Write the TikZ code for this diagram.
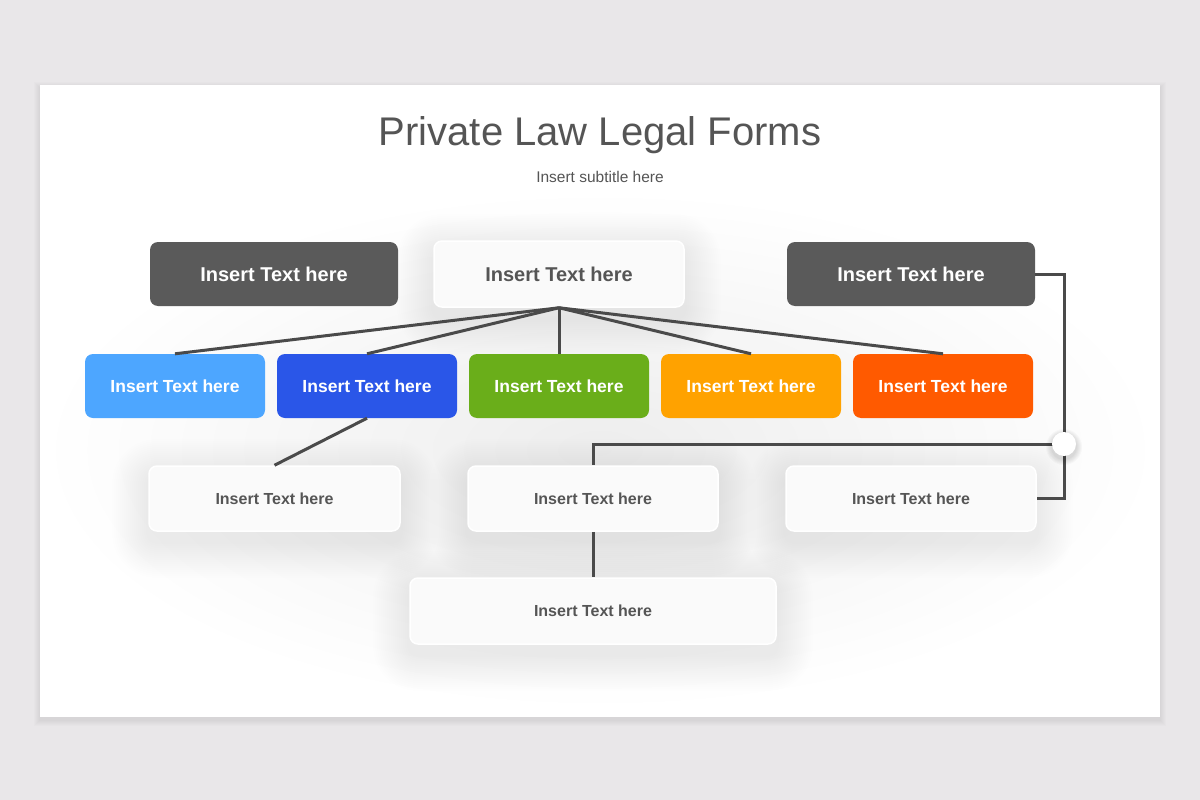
\documentclass[tikz,border=0pt]{standalone}
\usepackage{fontspec}
\setmainfont{Liberation Sans}
\usetikzlibrary{backgrounds}
\definecolor{bgc}{HTML}{E9E7E9}
\definecolor{darkc}{HTML}{5A5A5A}
\definecolor{linec}{HTML}{4A4A4A}
\definecolor{txtc}{HTML}{555555}
\definecolor{boxw}{HTML}{FAFAFA}
\definecolor{c1}{HTML}{4DA6FF}
\definecolor{c2}{HTML}{2A56E8}
\definecolor{c3}{HTML}{6AAE1A}
\definecolor{c4}{HTML}{FFA200}
\definecolor{c5}{HTML}{FF5A00}
\tikzset{
  darkbox/.style={rounded corners=8pt, fill=darkc, draw=none, text=white,
    font=\fontsize{20}{24}\selectfont\bfseries, minimum width=248pt, minimum height=64pt, inner sep=0pt},
  whitebox/.style={rounded corners=8pt, fill=boxw, draw=white, line width=1.5pt, text=txtc, inner sep=0pt},
  colbox/.style={rounded corners=8pt, draw=none, text=white, minimum width=180pt, minimum height=64pt,
    inner sep=0pt, font=\fontsize{17.5}{21}\selectfont\bfseries},
  smalltxt/.style={font=\fontsize{16}{19}\selectfont\bfseries, minimum height=64pt},
  link/.style={draw=linec, line width=3pt},
  shadowlayer/.style={fill=black, fill opacity=0.0035, draw=none}
}
\newcommand\softshadow[1]{%
  \foreach \i in {1,...,18}{%
    \fill[shadowlayer, rounded corners=8pt+2*\i pt]
      ([shift={(-2*\i,-2*\i+10)}]#1.north west) rectangle ([shift={(2*\i,2*\i+10)}]#1.south east);
  }}
\begin{document}
\begin{tikzpicture}[x=1pt, y=-1pt]
\useasboundingbox (0,0) rectangle (1200,800);

\node[text=txtc, font=\fontsize{40}{48}\selectfont] (title) at (600,135) {Private Law Legal Forms};
\node[text=txtc, font=\fontsize{15.5}{19}\selectfont] (sub) at (600,177) {Insert subtitle here};

\node[darkbox] (tl) at (274,274) {Insert Text here};
\node[whitebox, minimum width=250pt, minimum height=66pt, font=\fontsize{20}{24}\selectfont\bfseries] (tc) at (559,274) {Insert Text here};
\node[darkbox] (tr) at (911,274) {Insert Text here};

\node[colbox, fill=c1] (b1) at (175,386) {Insert Text here};
\node[colbox, fill=c2] (b2) at (367,386) {Insert Text here};
\node[colbox, fill=c3] (b3) at (559,386) {Insert Text here};
\node[colbox, fill=c4] (b4) at (751,386) {Insert Text here};
\node[colbox, fill=c5] (b5) at (943,386) {Insert Text here};

\node[whitebox, smalltxt, minimum width=251pt, minimum height=65pt] (l1) at (274.5,498.5) {Insert Text here};
\node[whitebox, smalltxt, minimum width=250pt, minimum height=65pt] (l2) at (593,498.5) {Insert Text here};
\node[whitebox, smalltxt, minimum width=250pt, minimum height=65pt] (l3) at (911,498.5) {Insert Text here};
\node[whitebox, smalltxt, minimum width=366pt, minimum height=66pt] (l4) at (593,611) {Insert Text here};

\begin{pgfonlayer}{background}
\fill[bgc] (0,0) rectangle (1200,800);
\foreach \i in {1,...,6}{\fill[black, fill opacity=0.012] (40-\i,85+3-\i) rectangle (1160+\i,717+3+\i);}
\fill[white] (40,85) rectangle (1160,717);
\begin{scope}
\clip (40,85) rectangle (1160,717);
\shade[inner color=black!7, outer color=white] (600,450) ellipse (560 and 260);
\end{scope}
\softshadow{tc}
\softshadow{l1}
\softshadow{l2}
\softshadow{l3}
\softshadow{l4}
\end{pgfonlayer}

\coordinate (dotc) at (1064,444);

\foreach \b in {b1,b2,b3,b4,b5} \draw[link] (tc.south) -- (\b.north);
\draw[link] (b2.south) -- (l1.north);
\draw[link] (l2.south) -- (l4.north);
\draw[link] (tr.east) -| (dotc) |- (l3.east);
\draw[link] (dotc) -| (l2.north);
\foreach \i in {1,...,6}{\fill[shadowlayer, fill opacity=0.025] ([yshift=-3pt]dotc) circle (12+\i);}
\node[circle, fill=white, minimum size=24pt, inner sep=0pt] (dot) at (dotc) {};
\end{tikzpicture}
\end{document}
